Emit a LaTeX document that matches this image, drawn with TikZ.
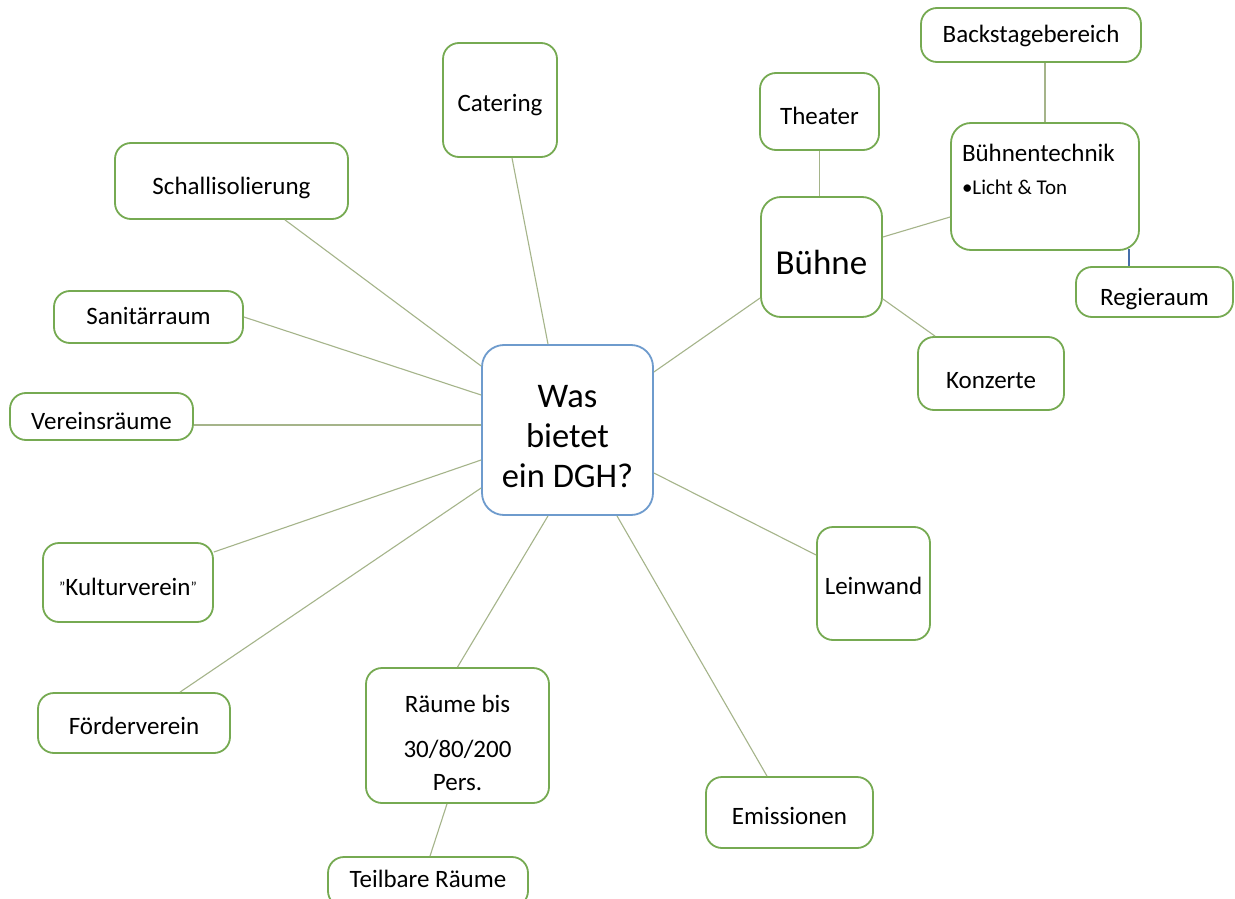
\documentclass[tikz,border=0pt]{standalone}
\usepackage{fontspec}
\setmainfont{Carlito}
\usetikzlibrary{calc}
\definecolor{boxgreen}{RGB}{118,170,82}
\definecolor{linegreen}{RGB}{165,180,138}
\definecolor{centerblue}{RGB}{110,155,205}
\definecolor{darkblue}{RGB}{70,110,170}
\tikzset{
  box/.style={draw=boxgreen, line width=1.8pt, rounded corners=16pt, fill=white,
    inner sep=0pt, align=center, font=\fontsize{25}{30}\selectfont},
  sz/.style n args={2}{minimum width=#1pt, minimum height=#2pt},
  tht/.style={text height=#1pt, text depth=0pt},
  conn/.style={draw=linegreen, line width=1.1pt},
}
\begin{document}
\begin{tikzpicture}[x=1pt,y=-1pt]
\useasboundingbox (0,0) rectangle (1235,899);
\clip (0,0) rectangle (1235,899);
\fill[white] (0,0) rectangle (1235,899);

% center
\node[box, draw=centerblue, rounded corners=22pt, sz={171}{170},
  font=\fontsize{34.5}{40}\selectfont] (C) at (567.5,430)
  {\rule{0pt}{36pt}Was\\bietet\\ein DGH?};

% left / top nodes
\node[box, sz={114}{114}, tht=23.2] (cat) at (500,100) {Catering};
\node[box, sz={233}{76}, tht=27.2] (sch) at (231.5,181) {Schallisolierung};
\node[box, sz={189}{52}, tht=15.2] (san) at (148.5,317) {Sanitärraum};
\node[box, sz={183}{47}, tht=26.2] (ver) at (101.5,416.5) {Vereinsräume};
\node[box, sz={170}{79}, tht=26.2] (kul) at (128,582.5)
  {\raisebox{3pt}{\fontsize{15}{15}\selectfont"}Kulturverein\raisebox{3pt}{\fontsize{15}{15}\selectfont"}};
\node[box, sz={192}{60}, tht=23.2] (foe) at (134,723) {Förderverein};
\node[box, sz={183}{135}] (rae) at (457.5,735.5)
  {\rule{0pt}{32pt}Räume bis\\[15pt]30/80/200\\[3pt]Pers.};
\node[box, sz={200}{50}, tht=11.2] (tei) at (428,882) {Teilbare Räume};
\node[box, sz={167}{71}, tht=24.2] (emi) at (789.5,812.5) {Emissionen};
\node[box, sz={113}{113}, tht=22.2] (lei) at (873.5,583.5) {Leinwand};

% stage cluster
\node[box, rounded corners=20pt, sz={121}{120}, tht=34.2,
  font=\fontsize{35}{40}\selectfont] (bue) at (821.5,257) {Bühne};
\node[box, sz={119}{77}, tht=26.2] (the) at (819.5,111.5) {Theater};
\node[box, sz={220}{54}, tht=15.2] (bac) at (1031,35) {Backstagebereich};
\node[box, rounded corners=20pt, sz={188}{127}] (tec) at (1045,186.5)
  {\lineskiplimit=-100pt\parbox[c][127pt][t]{188pt}{\leftskip=11pt
   \fontsize{25}{0}\selectfont\rule{0pt}{38pt}Bühnentechnik\par
   \fontsize{21}{33.6}\selectfont •Licht \& Ton\par}};
\node[box, sz={157}{50}, tht=27.2] (reg) at (1154.5,292) {Regieraum};
\node[box, sz={146}{73}, tht=30.2] (kon) at (991,373.5) {Konzerte};

% connectors
\draw[conn] ([xshift=12pt]cat.south) -- ([xshift=-19.5pt]C.north);
\draw[conn] ([xshift=53.5pt]sch.south) -- ([yshift=64pt]C.west);
\draw[conn] (san.east) -- ([yshift=35pt]C.west);
\draw[conn] ([yshift=-8.5pt]ver.east) -- ([yshift=5pt]C.west);
\draw[conn] ([yshift=30.5pt]kul.east) -- ([yshift=-30pt]C.west);
\draw[conn] ([xshift=46pt]foe.north) -- ([yshift=-58pt]C.west);
\draw[conn] (rae.north) -- ([xshift=-19.5pt]C.south);
\draw[conn] ([xshift=-10.5pt]rae.south) -- ([xshift=2pt]tei.north);
\draw[conn] ([xshift=49.5pt]C.south) -- ([xshift=-22.5pt]emi.north);
\draw[conn] ([yshift=-43pt]C.east) -- ([yshift=28.5pt]lei.west);
\draw[conn] ([yshift=58pt]C.east) -- ([yshift=-41pt]bue.west);
\draw[conn] (the.south) -- (the.south |- bue.north);
\draw[conn] ([yshift=20pt]bue.east) -- ([yshift=-30.5pt]tec.west);
\draw[conn] ([yshift=-42pt]bue.east) -- ([xshift=-56pt]kon.north);
\draw[conn] (tec.north |- bac.south) -- (tec.north);
\draw[draw=darkblue, line width=1.6pt] ([xshift=-25.5pt,yshift=2pt]reg.north |- tec.south) -- ([xshift=-25.5pt]reg.north);
\end{tikzpicture}
\end{document}
